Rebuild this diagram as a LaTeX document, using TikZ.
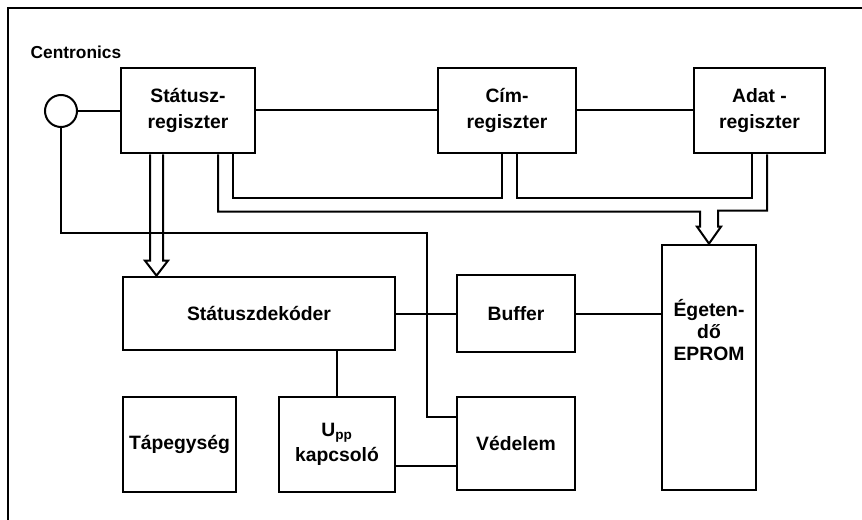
\documentclass[tikz,border=0pt]{standalone}
\usepackage{fontspec}
\setmainfont{Liberation Sans}
\usetikzlibrary{calc}
\begin{document}
\begin{tikzpicture}[x=0.75pt,y=-0.75pt,
  blk/.style={draw,line width=2pt,align=center,inner sep=1pt,
    font=\fontsize{14.5}{19}\selectfont\bfseries},
  wire/.style={line width=1.5pt},
  bus/.style={line width=1.5pt,line join=miter}]
  \useasboundingbox (0,0) rectangle (862,520);
  \draw[line width=1.5pt] (8,520) -- (8,8) -- (862,8);
  \node[anchor=west,font=\fontsize{13}{15}\selectfont\bfseries] (cent) at (26,52) {Centronics};
  \node[draw,circle,line width=1.5pt,minimum size=24pt,inner sep=0pt] (circ) at (61,111) {};
  \node[blk,minimum width=100.5pt,minimum height=63.75pt] (stat) at (188,110.5) {Státusz-\\regiszter};
  \node[blk,minimum width=103.5pt,minimum height=63.75pt] (cim) at (507,110.5) {Cím-\\regiszter};
  \node[blk,minimum width=98.25pt,minimum height=63.75pt] (adat) at (759.5,110.5) {Adat -\\regiszter};
  \node[blk,minimum width=204pt,minimum height=54.75pt] (dek) at (259,313.5) {Státuszdekóder};
  \node[blk,minimum width=88.5pt,minimum height=57.75pt] (buf) at (516,313.5) {Buffer};
  \node[blk,minimum width=70.5pt,minimum height=183.75pt] (eprom) at (709,367.5) {};
  \node[font=\fontsize{14.5}{16.5}\selectfont\bfseries,align=center] (epromtxt) at (709,330) {Égeten-\\dő\\EPROM};
  \node[blk,minimum width=84.75pt,minimum height=71.25pt] (tap) at (179.5,444.5) {Tápegység};
  \node[blk,minimum width=87pt,minimum height=71.25pt] (upp) at (337,444.5) {U\textsubscript{pp}\\kapcsoló};
  \node[blk,minimum width=88.5pt,minimum height=69.75pt] (ved) at (516,443.5) {Védelem};
  % egyszeru vezetekek
  \draw[wire] (circ.east) -- (circ.east -| stat.west);
  \draw[wire] (stat.east) -- (stat.east -| cim.west);
  \draw[wire] (cim.east) -- (cim.east -| adat.west);
  \draw[wire] (dek.east) -- (dek.east -| buf.west);
  \draw[wire] (buf.east) -- (buf.east -| eprom.west);
  \draw[wire] (upp.north) -- (upp.north |- dek.south);
  \draw[wire] ($(upp.east)+(0,21.5)$) coordinate (u1) -- (u1 -| ved.west);
  \draw[wire] (circ.south) -- ++(0,105) -| ($(ved.west)+(-29,-26.5)$) -- ($(ved.west)+(0,-26.5)$);
  % buszok
  \draw[bus] ($(stat.south)+(-38,0)$) -- ($(stat.south |- dek.north)+(-38,-15)$) -- ++(-5,0)
    -- ($(stat.south |- dek.north)+(-31.5,0)$) -- ++(11.5,-15) -- ++(-5,0) -- ($(stat.south)+(-25,0)$);
  \draw[bus] ($(stat.south)+(30,0)$) |- ($(eprom.north)+(-9,-32)$) -- ($(eprom.north)+(-9,-17)$)
    -- ($(eprom.north)+(-12,-17)$) -- (eprom.north) -- ($(eprom.north)+(12,-17)$)
    -- ($(eprom.north)+(9,-17)$) -- ($(eprom.north)+(9,-33)$) -| ($(adat.south)+(7.5,0)$);
  \draw[bus] ($(stat.south)+(45,0)$) |- ($(cim.south)+(-5,44)$) -- ($(cim.south)+(-5,0)$);
  \draw[bus] ($(cim.south)+(10,0)$) |- ($(adat.south)+(-7.5,44)$) -- ($(adat.south)+(-7.5,0)$);
\end{tikzpicture}
\end{document}
